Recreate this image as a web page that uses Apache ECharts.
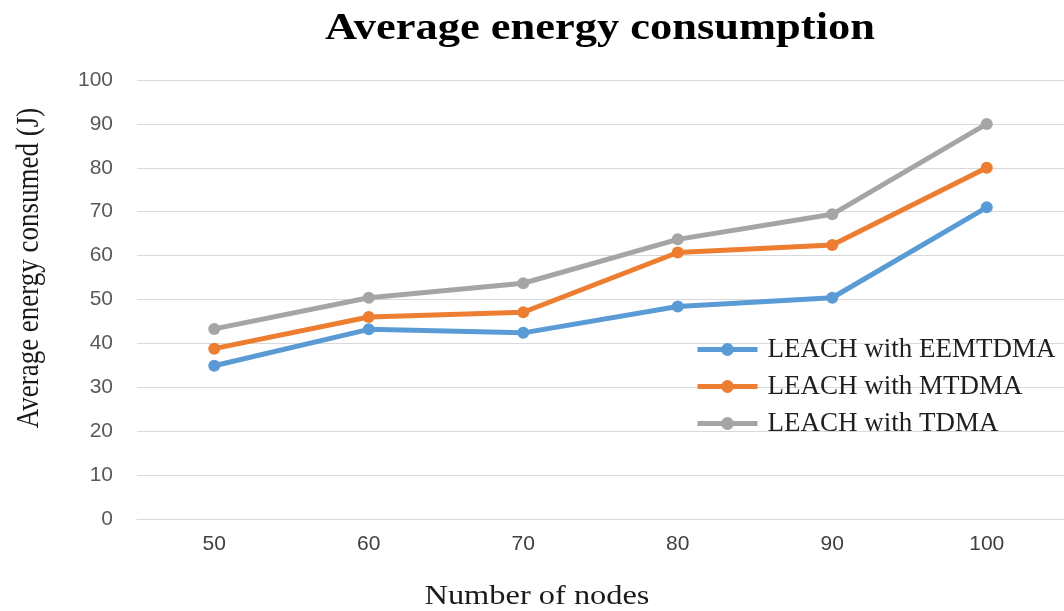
<!DOCTYPE html>
<html>
<head>
<meta charset="utf-8">
<script src="https://cdn.jsdelivr.net/npm/echarts@6/dist/echarts.min.js"></script>
<style>
  html, body { margin: 0; padding: 0; background: #ffffff; }
  #chart { width: 1064px; height: 611px; }
</style>
</head>
<body>
<div id="chart"></div>
<script>
// Number of nodes in the network
const nodeCounts = ['50', '60', '70', '80', '90', '100'];

// Average energy consumed (J) per protocol
const leachEEMTDMA = [34.9, 43.2, 42.4, 48.4, 50.4, 71.0];
const leachMTDMA   = [38.8, 46.0, 47.1, 60.7, 62.4, 80.0];
const leachTDMA    = [43.3, 50.4, 53.7, 63.7, 69.4, 90.0];

const seriesNames = ['LEACH with EEMTDMA', 'LEACH with MTDMA', 'LEACH with TDMA'];
const seriesColors = ['#5B9BD5', '#ED7D31', '#A5A5A5'];
const seriesData = [leachEEMTDMA, leachMTDMA, leachTDMA];

const chart = echarts.init(document.getElementById('chart'), null, { renderer: 'canvas' });

const serif = '"Liberation Serif", "Times New Roman", serif';
const sans = '"Liberation Sans", Arial, sans-serif';

chart.setOption({
  animation: false,
  backgroundColor: '#ffffff',
  grid: { left: 137, right: -5, top: 80, bottom: 92, containLabel: false },
  graphic: [
    {
      type: 'text', x: 600, y: 29, scaleX: 1.17,
      style: {
        text: 'Average energy consumption',
        fontFamily: serif, fontSize: 38, fontWeight: 'bold',
        fill: '#000000', align: 'center', verticalAlign: 'middle'
      }
    },
    {
      type: 'text', x: 537, y: 597, scaleX: 1.2,
      style: {
        text: 'Number of nodes',
        fontFamily: serif, fontSize: 27,
        fill: '#1a1a1a', align: 'center', verticalAlign: 'middle'
      }
    },
    {
      type: 'text', x: 29, y: 268, rotation: Math.PI / 2, scaleY: 1.2,
      style: {
        text: 'Average energy consumed (J)',
        fontFamily: serif, fontSize: 27,
        fill: '#1a1a1a', align: 'center', verticalAlign: 'middle'
      }
    }
  ],
  legend: {
    orient: 'vertical',
    left: 690,
    top: 331,
    itemWidth: 60,
    itemHeight: 16,
    itemGap: 10,
    data: seriesNames,
    lineStyle: { width: 5 },
    textStyle: {
      fontFamily: serif, fontSize: 27, color: '#1f1f1f',
      lineHeight: 27, padding: [0, 0, 0, 5]
    }
  },
  xAxis: {
    type: 'category',
    data: nodeCounts,
    boundaryGap: true,
    axisLine: { show: true, lineStyle: { color: '#D9D9D9', width: 1 } },
    axisTick: { show: false },
    axisLabel: { fontFamily: sans, fontSize: 21, color: '#404040', margin: 15 },
    splitLine: { show: false }
  },
  yAxis: {
    type: 'value',
    min: 0, max: 100, interval: 10,
    axisLine: { show: false },
    axisTick: { show: false },
    axisLabel: { fontFamily: sans, fontSize: 21, color: '#595959', margin: 24 },
    splitLine: { show: true, lineStyle: { color: '#D9D9D9', width: 1 } }
  },
  series: seriesNames.map((name, i) => ({
    name: name,
    type: 'line',
    data: seriesData[i],
    symbol: 'circle',
    symbolSize: 12,
    lineStyle: { color: seriesColors[i], width: 5 },
    itemStyle: { color: seriesColors[i] },
    z: 3 - i
  }))
});
</script>
</body>
</html>
